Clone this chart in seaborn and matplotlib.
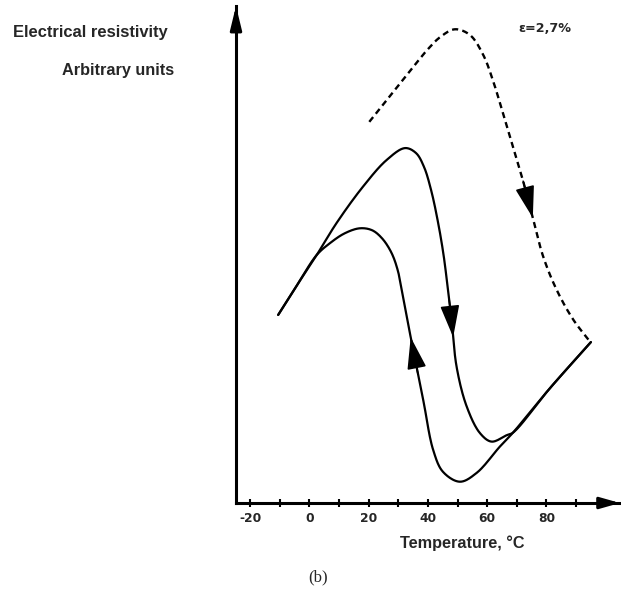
import numpy as np
import pandas as pd
import matplotlib
matplotlib.use("Agg")
import matplotlib.pyplot as plt
import seaborn as sns

# Heating branch (solid, left start -> upper loop -> right end)
heat_temp = [-10.5, -4.15, 2.5, 9.24, 18.1, 26.1, 32.3, 36.0, 38.7, 41.1, 43.4, 45.3,
             46.8, 48.0, 49.7, 53.1, 57.6, 61.5, 66.6, 68.7, 81.2, 95.0]
heat_res = [38.0, 44.0, 50.1, 56.6, 63.9, 69.3, 71.7, 70.7, 67.9, 63.2, 56.8, 50.1,
            43.0, 37.0, 27.5, 19.5, 14.1, 12.4, 13.7, 14.2, 23.2, 32.5]

# Cooling branch (solid, right end -> lower loop -> left start)
cool_temp = [95.0, 81.2, 68.7, 64.3, 56.5, 50.8, 45.1, 41.8, 38.5, 35.1, 31.9, 29.8,
             27.6, 24.5, 21.2, 17.1, 12.0, 6.98, 2.5, -4.15, -10.5]
cool_res = [32.5, 23.2, 14.2, 11.4, 6.1, 4.3, 6.3, 10.7, 20.6, 30.7, 40.8, 47.1,
            50.7, 53.5, 55.1, 55.5, 54.5, 52.5, 50.1, 44.0, 38.0]

# Constrained heating (dashed), strain 2.7 %
strain_temp = [20.24, 28.24, 36.0, 40.05, 44.1, 49.1, 54.2, 58.7, 62.1, 65.5, 68.8,
               72.2, 75.5, 78.9, 83.5, 89.1, 94.7]
strain_res = [77.0, 83.0, 88.8, 91.7, 94.1, 95.7, 94.55, 90.5, 85.1, 78.4, 71.7,
              64.9, 57.4, 49.8, 43.0, 37.0, 32.6]

tick_values = [-20, 0, 20, 40, 60, 80]
tick_labels = ["-20", "0", "20", "40", "60", "80"]

# pixels per data unit, used so the spline is smooth on screen
SX, SY = 2.964, 4.95


def smooth(x, y, n=20, alpha=0.5):
    """Centripetal Catmull-Rom spline through the given points (drawing only)."""
    P = np.column_stack([np.asarray(x, float) * SX, np.asarray(y, float) * SY])
    P = np.vstack([2 * P[0] - P[1], P, 2 * P[-1] - P[-2]])
    out = []
    for i in range(1, len(P) - 2):
        p0, p1, p2, p3 = P[i - 1], P[i], P[i + 1], P[i + 2]
        t0 = 0.0
        t1 = t0 + np.linalg.norm(p1 - p0) ** alpha
        t2 = t1 + np.linalg.norm(p2 - p1) ** alpha
        t3 = t2 + np.linalg.norm(p3 - p2) ** alpha
        t = np.linspace(t1, t2, n, endpoint=False)[:, None]
        A1 = (t1 - t) / (t1 - t0) * p0 + (t - t0) / (t1 - t0) * p1
        A2 = (t2 - t) / (t2 - t1) * p1 + (t - t1) / (t2 - t1) * p2
        A3 = (t3 - t) / (t3 - t2) * p2 + (t - t2) / (t3 - t2) * p3
        B1 = (t2 - t) / (t2 - t0) * A1 + (t - t0) / (t2 - t0) * A2
        B2 = (t3 - t) / (t3 - t1) * A2 + (t - t1) / (t3 - t1) * A3
        C = (t2 - t) / (t2 - t1) * B1 + (t - t1) / (t2 - t1) * B2
        out.append(C)
    out.append(P[-2][None])
    S = np.vstack(out)
    return pd.DataFrame({"T": S[:, 0] / SX, "R": S[:, 1] / SY})


def point_at(df, level, tmin, tmax):
    """Point of the curve at resistance `level` within a temperature window."""
    sub = df[(df["T"] >= tmin) & (df["T"] <= tmax)].sort_values("R")
    return float(np.interp(level, sub["R"], sub["T"])), level


sns.set_theme(style="white")
plt.rcParams["font.family"] = ["Liberation Sans", "DejaVu Sans"]

W, H = 621, 589
fig = plt.figure(figsize=(W / 100, H / 100), dpi=100)
left, right, bottom, top = 236, 620, 503, 6
ax = fig.add_axes([left / W, (H - bottom) / H, (right - left) / W, (bottom - top) / H])

heat = smooth(heat_temp, heat_res)
cool = smooth(cool_temp, cool_res)
strain = smooth(strain_temp, strain_res)

sns.lineplot(data=heat, x="T", y="R", sort=False, estimator=None, color="black", lw=1.6, ax=ax)
sns.lineplot(data=cool, x="T", y="R", sort=False, estimator=None, color="black", lw=1.6, ax=ax)
sns.lineplot(data=strain, x="T", y="R", sort=False, estimator=None, color="black", lw=1.7,
             ax=ax, linestyle=(0, (2.6, 1.8)))

# Direction arrows along the curves
arrow_kw = dict(arrowstyle="-|>,head_length=1.0,head_width=0.3", mutation_scale=20,
                color="black", lw=1.2, shrinkA=0, shrinkB=0)
for df, tail_lvl, tip_lvl, win in [(heat, 41.5, 33.5, (42, 56)),
                                   (cool, 26.0, 33.5, (30, 42)),
                                   (strain, 65.0, 57.6, (66, 80))]:
    ax.annotate("", xy=point_at(df, tip_lvl, *win), xytext=point_at(df, tail_lvl, *win),
                arrowprops=arrow_kw)

ax.set_xlim((left - 309.3) / SX, (right - 309.3) / SX)
ax.set_ylim(0, (bottom - top) / SY)

for s in ["top", "right"]:
    ax.spines[s].set_visible(False)
for s in ["left", "bottom"]:
    ax.spines[s].set_linewidth(2.2)
    ax.spines[s].set_color("black")

# axis arrow heads
ax.annotate("", xy=(0, 1.0), xycoords="axes fraction", xytext=(0, 0.95),
            arrowprops=dict(arrowstyle="-|>,head_length=0.7,head_width=0.17",
                            mutation_scale=20, color="black", lw=2.2, shrinkA=0, shrinkB=0))
ax.annotate("", xy=(1.0, 0), xycoords="axes fraction", xytext=(0.95, 0),
            arrowprops=dict(arrowstyle="-|>,head_length=0.6,head_width=0.17",
                            mutation_scale=20, color="black", lw=2.2, shrinkA=0, shrinkB=0))

ax.set_xticks(tick_values)
ax.set_xticklabels(tick_labels, fontfamily="DejaVu Sans", fontweight="bold", fontsize=8.8)
ax.set_xticks([-10, 10, 30, 50, 70, 90], minor=True)
ax.tick_params(axis="x", which="both", direction="inout", length=6, width=1.5,
               color="black", bottom=True, pad=3.5)
ax.set_yticks([])
ax.set_xlabel("")
ax.set_ylabel("")

fig.text(13 / W, 1 - 32 / H, "Electrical resistivity", ha="left", va="center",
         fontsize=11.9, fontweight="bold")
fig.text(62 / W, 1 - 70 / H, "Arbitrary units", ha="left", va="center",
         fontsize=11.7, fontweight="bold")
fig.text(518 / W, 1 - 28 / H, "ε=2,7%", ha="left", va="center",
         fontsize=9.2, fontweight="bold", fontfamily="DejaVu Sans")
fig.text(462 / W, 1 - 543 / H, "Temperature, °C", ha="center", va="center",
         fontsize=11.7, fontweight="bold")
fig.text(318 / W, 1 - 577 / H, "(b)", ha="center", va="center",
         fontsize=12, fontfamily="Liberation Serif")

fig.savefig("out.png", dpi=100, facecolor="white")
